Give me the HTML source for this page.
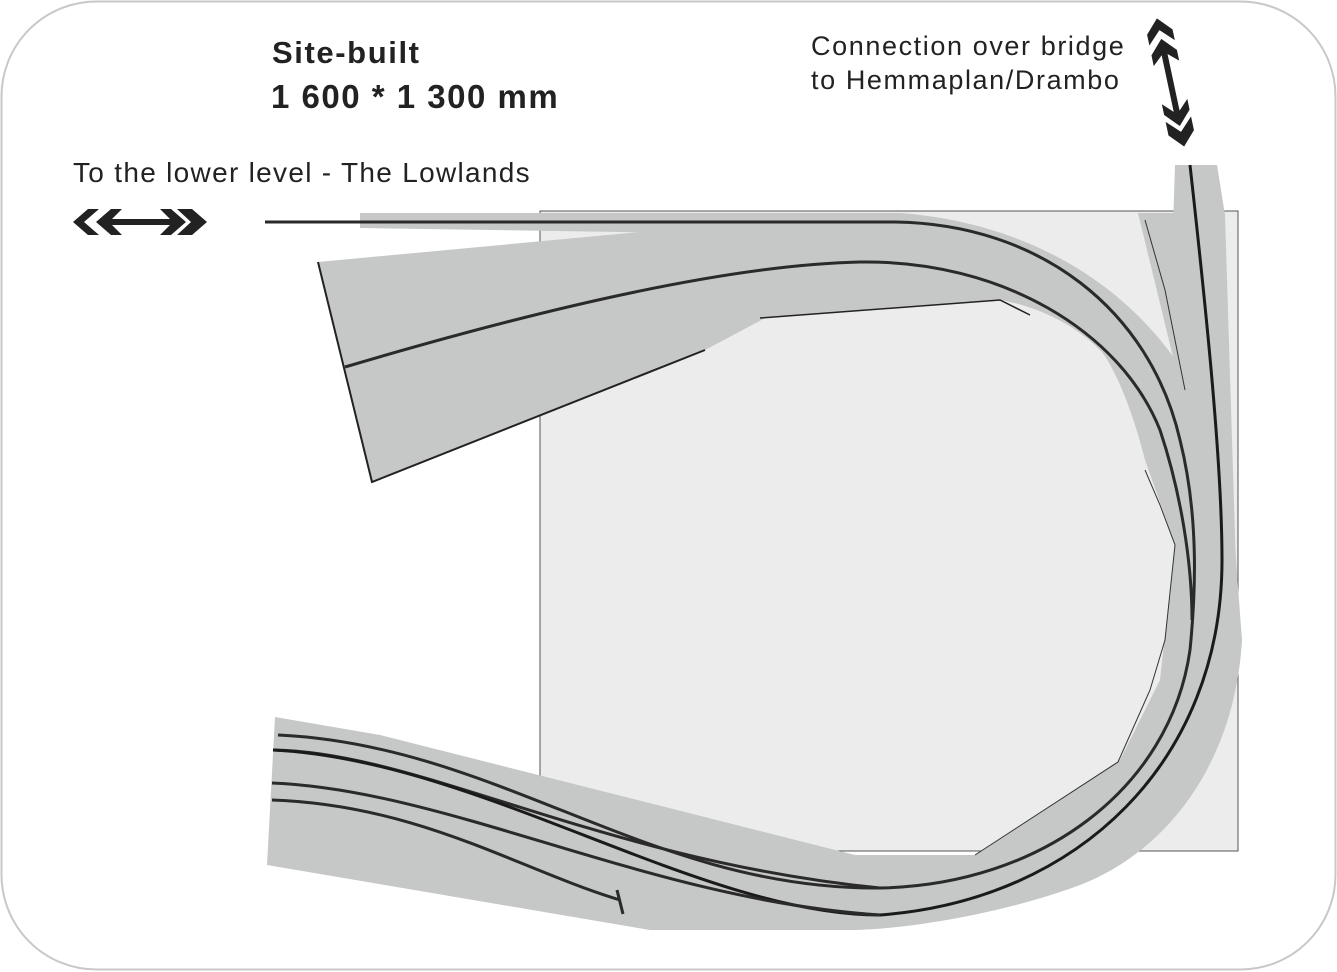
<!DOCTYPE html>
<html><head><meta charset="utf-8"><style>
html,body{margin:0;padding:0;background:#fff;}
svg{display:block;}
text{font-family:"Liberation Sans",sans-serif;fill:#222;}
</style></head><body>
<svg width="1337" height="972" viewBox="0 0 1337 972" xmlns="http://www.w3.org/2000/svg">
<rect x="1.5" y="1.5" width="1334" height="968" rx="95" ry="95" fill="#fff" stroke="#c8c8c8" stroke-width="2"/>
<rect x="540" y="211" width="698" height="640" fill="#ebeceb" stroke="#555" stroke-width="1"/>
<path d="M360,213 L900,213 C1060,225 1190,320 1230,480 L1242,640 C1235,760 1170,850 1080,885 C1000,915 900,930 850,930 L650,930 L267,865 L275,717 L380,735 L855,855 L975,855 L1120,760 L1160,680 L1175,545 L1145,460 C1130,400 1110,360 1100,350 C1070,320 1030,305 1000,300 L765,318 L705,350 L372,482 L318,262 L640,232 L820,235 L360,228 Z" fill="#c6c7c7"/>
<path d="M318,262 L372,482 L705,350" fill="none" stroke="#222" stroke-width="2"/>
<path d="M760,318 L1000,300 L1030,315" fill="none" stroke="#222" stroke-width="1.5"/>
<path d="M975,855 L1118,762 L1150,690 L1165,640 L1175,545 L1160,505 L1145,470" fill="none" stroke="#333" stroke-width="1"/>
<path d="M1175,165 L1217,165 L1225,215 L1237,600 L1205,620 L1190,400 L1172,260 Z" fill="#c6c7c7"/>
<path d="M1138,213 L1175,213 L1190,395 L1183,398 Z" fill="#c6c7c7"/>
<path d="M1145,220 L1165,290 L1185,390" fill="none" stroke="#333" stroke-width="1"/>
<g fill="none" stroke="#2a2a2a" stroke-width="3">
<path d="M265,222 L895,222 C1040,224 1150,310 1180,440 C1200,520 1195,600 1190,650 C1170,790 1040,885 880,888 C650,890 500,745 278,735"/>
<path d="M345,367 C520,315 720,265 860,262 C1000,260 1120,330 1160,430 C1180,490 1192,560 1192,620"/>
<path d="M273,750 C420,752 600,860 880,888"/>
<path d="M1190,165 C1205,300 1222,460 1222,560 C1222,760 1080,900 880,915 C700,915 480,760 273,750" stroke="#1a1a1a"/>
<path d="M272,783 C450,790 650,900 880,915"/>
<path d="M272,800 C420,805 520,870 620,900"/>
<path d="M617,890 L623,914"/>
</g>
<g fill="#222">
<path d="M73,222 L88,209 L99,209 L84,222 L99,235 L88,235 Z"/>
<path d="M96,222 L111,209 L122,209 L112,219 L170,219 L160,209 L171,209 L186,222 L171,235 L160,235 L170,225 L112,225 L122,235 L111,235 Z"/>
<path d="M177,209 L192,209 L207,222 L192,235 L177,235 L191,222 Z"/>
</g>
<g fill="#222" transform="rotate(-12 1170 80)">
<path d="M1170,17 L1183,31 L1183,42 L1170,29 L1157,42 L1157,31 Z"/>
<path d="M1170,38 L1183,52 L1183,63 L1173,54 L1173,112 L1183,102 L1183,113 L1170,127 L1157,113 L1157,102 L1167,112 L1167,54 L1157,63 L1157,52 Z"/>
<path d="M1157,120 L1170,133 L1183,120 L1183,134 L1170,148 L1157,134 Z"/>
</g>
<text x="272" y="63" font-size="31" font-weight="bold" letter-spacing="1.6">Site-built</text>
<text x="271" y="108" font-size="33" font-weight="bold" letter-spacing="1.5">1 600 * 1 300 mm</text>
<text x="73" y="182" font-size="28" letter-spacing="1.3">To the lower level - The Lowlands</text>
<text x="811" y="55" font-size="27" letter-spacing="1.6">Connection over bridge</text>
<text x="811" y="89" font-size="27" letter-spacing="1.6">to Hemmaplan/Drambo</text>
</svg>
</body></html>
